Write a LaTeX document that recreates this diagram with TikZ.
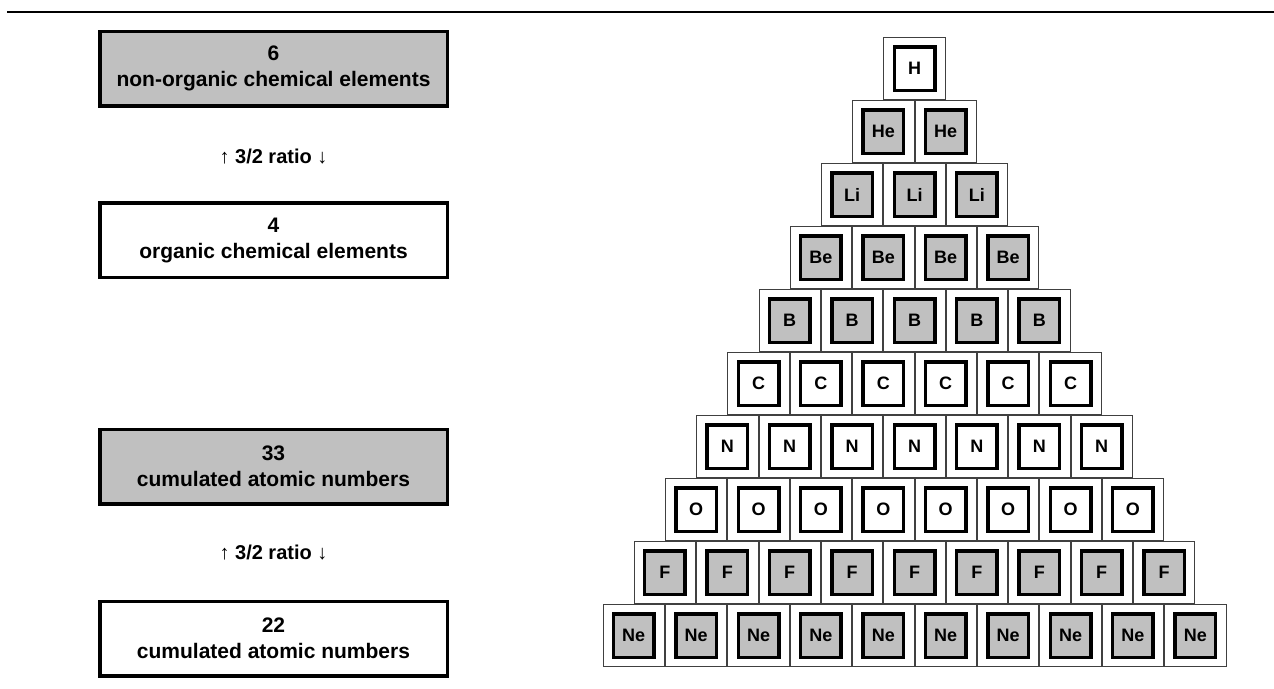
\documentclass[tikz,border=0pt]{standalone}
\usepackage{fontspec}
\setmainfont{Liberation Sans}
\definecolor{boxgray}{HTML}{C0C0C0}
\definecolor{edgegray}{HTML}{404040}

\begin{document}
\begin{tikzpicture}[x=1pt, y=-1pt,
    countbox/.style={draw, line width=3.5pt, minimum width=347.5pt, minimum height=74.5pt,
        align=center, font=\fontsize{21}{26}\selectfont\bfseries, inner sep=0pt},
    ratiotext/.style={font=\fontsize{20}{24}\selectfont\bfseries},
    cellbox/.style={draw=edgegray, line width=1pt, minimum width=61.4pt, minimum height=62pt, inner sep=0pt},
    symbox/.style={draw, line width=3.5pt, minimum width=40.5pt, minimum height=43.5pt, inner sep=0pt,
        font=\fontsize{18}{20}\selectfont\bfseries}]
\useasboundingbox (0,0) rectangle (1274,688);
% ---------- rule at the top ----------
\draw[line width=2pt] (7,12) -- (1274,12);
% ---------- left column: counts ----------
\node[countbox, fill=boxgray] (nonorg) at (273.5,68.5) {6\\non-organic chemical elements};
\node[ratiotext] (ratioA) at (273.5,157) {↑ 3/2 ratio ↓};
\node[countbox, fill=white] (org) at (273.5,240) {4\\organic chemical elements};
\node[countbox, fill=boxgray] (sumnon) at (273.5,466.5) {33\\cumulated atomic numbers};
\node[ratiotext] (ratioB) at (273.5,553) {↑ 3/2 ratio ↓};
\node[countbox, fill=white] (sumorg) at (273.5,638.5) {22\\cumulated atomic numbers};
% ---------- right: pyramid of elements ----------
\foreach \sym/\col [count=\r from 0] in {H/white, He/boxgray, Li/boxgray, Be/boxgray, B/boxgray,
    C/white, N/white, O/white, F/boxgray, Ne/boxgray} {
  \foreach \i in {0,...,\r} {
    \node[cellbox] (cell-\r-\i) at ({914.5+(\i-\r/2)*62.4}, {68.5+\r*63}) {};
    \node[symbox, fill=\col] (sym-\r-\i) at (cell-\r-\i.center) {\sym};
  }
}
\end{tikzpicture}
\end{document}
